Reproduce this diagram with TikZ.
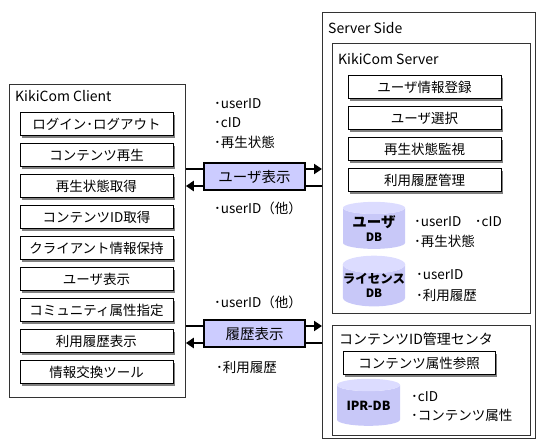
\documentclass[tikz,border=0pt]{standalone}
\usepackage{fontspec}
\setmainfont{Noto Sans CJK JP}
\usetikzlibrary{shadows,shapes.geometric,arrows.meta}
\definecolor{lav}{HTML}{CCCCFF}
\definecolor{dbbody}{HTML}{C8C8F8}
\definecolor{dbtop}{HTML}{DCDCFF}
\begin{document}
\begin{tikzpicture}[x=1pt,y=-1pt,
  every node/.style={inner sep=0pt,font=\fontsize{13.5}{15}\selectfont},
  group/.style={draw=black!80,line width=0.8pt},
  func/.style={draw=black,line width=0.8pt,fill=white,minimum width=153pt,minimum height=23pt,
    drop shadow={shadow xshift=2pt,shadow yshift=-2pt,fill=black!50,opacity=1}},
  msg/.style={draw=black,line width=1.8pt,fill=lav,minimum width=101pt,minimum height=27pt,
    font=\fontsize{14.5}{16}\selectfont},
  flow/.style={line width=2pt,-{Triangle[length=8pt,width=10pt]}},
  lbl/.style={anchor=west},
  ttl/.style={anchor=west,font=\fontsize{14}{15}\selectfont},
  db/.style={cylinder,shape border rotate=90,aspect=0.28,cylinder uses custom fill,
    cylinder body fill=dbbody,cylinder end fill=dbtop,minimum width=62pt,minimum height=47pt,
    align=center,font=\fontsize{12.5}{13}\selectfont\bfseries}
]
\useasboundingbox (0,0) rectangle (536,439);
% client
\node[group,anchor=north west,minimum width=176pt,minimum height=313pt] (client) at (9,84) {};
\node[ttl] (ctitle) at (15,96) {KikiCom Client};
\node[func] (c1) at (96.5,124) {ログイン･ログアウト};
\node[func] (c2) at (96.5,155) {コンテンツ再生};
\node[func] (c3) at (96.5,186) {再生状態取得};
\node[func] (c4) at (96.5,217) {コンテンツID取得};
\node[func] (c5) at (96.5,248) {クライアント情報保持};
\node[func] (c6) at (96.5,279) {ユーザ表示};
\node[func] (c7) at (96.5,310) {コミュニティ属性指定};
\node[func] (c8) at (96.5,341) {利用履歴表示};
\node[func] (c9) at (96.5,372) {情報交換ツール};
% server side
\node[group,anchor=north west,minimum width=213pt,minimum height=426pt] (side) at (322,12) {};
\node[ttl] (stitle) at (328,28) {Server Side};
\node[group,anchor=north west,minimum width=198pt,minimum height=270pt] (kserver) at (332,43) {};
\node[ttl] (kstitle) at (338,59) {KikiCom Server};
\node[func] (s1) at (424.5,87) {ユーザ情報登録};
\node[func] (s2) at (424.5,118) {ユーザ選択};
\node[func] (s3) at (424.5,149) {再生状態監視};
\node[func] (s4) at (424.5,180) {利用履歴管理};
\node[db] (userdb) at (374,228.5) {{\fontsize{14.5}{15}\selectfont ユーザ}\\[1pt]{\fontsize{11.5}{12}\selectfont DB}};
\node[lbl] (u1) at (414,222) {･userID　･cID};
\node[lbl] (u2) at (414,241) {･再生状態};
\node[db] (licdb) at (374,285.5) {ライセンス\\[1pt]{\fontsize{11.5}{12}\selectfont DB}};
\node[lbl] (l1) at (416,275) {･userID};
\node[lbl] (l2) at (416,295) {･利用履歴};
% content ID center
\node[group,anchor=north west,minimum width=198pt,minimum height=110pt] (cidc) at (332,325) {};
\node[ttl] (ctitle2) at (339,339) {コンテンツID管理センタ};
\node[func,minimum width=152pt] (cref) at (419,363) {コンテンツ属性参照};
\node[db,minimum width=63pt] (iprdb) at (368.5,405.5) {IPR-DB};
\node[lbl] (i1) at (411,397) {･cID};
\node[lbl] (i2) at (411,415) {･コンテンツ属性};
% flows
\coordinate (a1) at (200,169);
\coordinate (a2) at (200,186);
\coordinate (b1) at (200,326);
\coordinate (b2) at (200,343);
\draw[flow] (client.east |- a1) -- (side.west |- a1);
\draw[flow] (side.west |- a2) -- (client.east |- a2);
\draw[flow] (client.east |- b1) -- (side.west |- b1);
\draw[flow] (side.west |- b2) -- (client.east |- b2);
\node[msg] (m1) at (254.5,176.5) {ユーザ表示};
\node[msg] (m2) at (254.5,333.5) {履歴表示};
\node[lbl] (t1) at (214,104) {･userID};
\node[lbl] (t2) at (214,123) {･cID};
\node[lbl] (t3) at (214,142) {･再生状態};
\node[lbl] (t4) at (214,208) {･userID（他）};
\node[lbl] (t5) at (214,302) {･userID（他）};
\node[lbl] (t6) at (216,367) {･利用履歴};
\end{tikzpicture}
\end{document}
